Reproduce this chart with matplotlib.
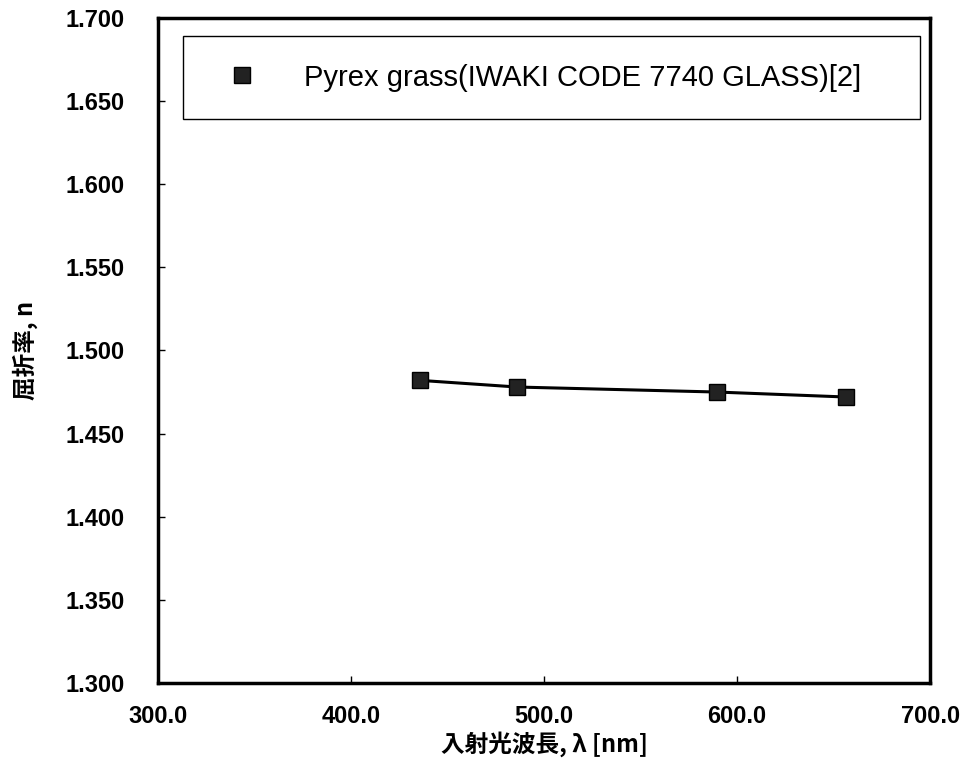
import matplotlib
matplotlib.use('Agg')
import matplotlib.pyplot as plt

# データ（読み取り値）
wavelength = [435.8, 486.1, 589.3, 656.3]   # nm
refr_index = [1.482, 1.478, 1.475, 1.472]
series_label = 'Pyrex grass(IWAKI CODE 7740 GLASS)[2]'
x_ticks = [300, 400, 500, 600, 700]
y_ticks = [1.300, 1.350, 1.400, 1.450, 1.500, 1.550, 1.600, 1.650, 1.700]

plt.rcParams['font.family'] = ['Liberation Sans', 'Noto Sans CJK JP', 'DejaVu Sans']

fig = plt.figure(figsize=(9.63, 7.8), dpi=100)
ax = fig.add_axes([0.164, 0.1244, 0.802, 0.8526])

ax.plot(wavelength, refr_index, color='black', lw=2.2, marker='s',
        markersize=12, markerfacecolor='#222222', markeredgecolor='black',
        label=series_label)

ax.set_xlim(300, 700)
ax.set_ylim(1.3, 1.7)
ax.set_xticks(x_ticks)
ax.set_xticklabels([f'{v:.1f}' for v in x_ticks])
ax.set_yticks(y_ticks)
ax.set_yticklabels([f'{v:.3f}' for v in y_ticks])
ax.tick_params(direction='in', length=5, width=1, labelsize=17)
ax.tick_params(axis='y', pad=24)
ax.tick_params(axis='x', pad=16)
for lab in ax.get_xticklabels() + ax.get_yticklabels():
    lab.set_fontweight('bold')
for s in ax.spines.values():
    s.set_linewidth(2.5)

ax.set_xlabel('入射光波長, λ [nm]', fontsize=17, fontweight='bold',
              family=['Noto Sans CJK JP', 'DejaVu Sans'], labelpad=2)
ax.set_ylabel('屈折率, n', fontsize=17, fontweight='bold',
              family=['Noto Sans CJK JP', 'DejaVu Sans'], labelpad=20)

leg = ax.legend(loc='upper left', bbox_to_anchor=(0.032, 0.847, 0.955, 0.126),
                mode='expand', fancybox=False, edgecolor='black', framealpha=1,
                prop={'size': 21}, handlelength=2.2, handletextpad=1.0,
                borderpad=0.95, borderaxespad=0, markerscale=1.0)
leg.get_frame().set_linewidth(1.0)
leg.legend_handles[0].set_linestyle('none')

fig.savefig('out.png', dpi=100)
